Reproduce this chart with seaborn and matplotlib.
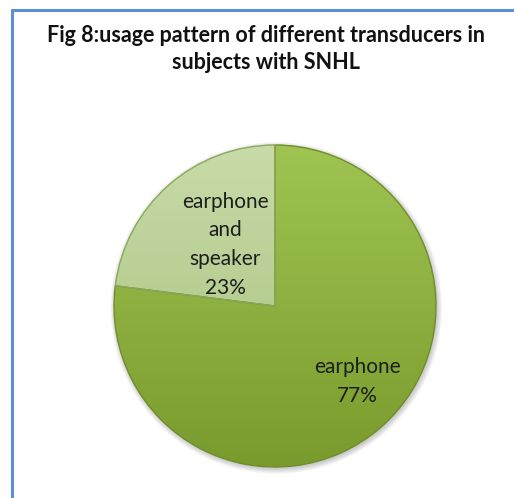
import numpy as np
import matplotlib
matplotlib.use('Agg')
import matplotlib.pyplot as plt
import seaborn as sns
from matplotlib.lines import Line2D
from matplotlib.patches import Circle
from matplotlib.colors import LinearSegmentedColormap

# --- data ---
categories = ['earphone', 'earphone\nand\nspeaker']
shares = [77, 23]
title_text = 'Fig 8:usage pattern of different transducers in\nsubjects with SNHL'

sns.set_theme(style='white')
plt.rcParams['font.family'] = ['Lato', 'DejaVu Sans']

# colors: (light, dark) per slice
slice_colors = [('#a0c452', '#799b2d'), ('#c8dba8', '#a5c07a')]

fig = plt.figure(figsize=(5.14, 4.98), dpi=100)
W, H = 514, 498
cx, cy, r = 275, 306, 161
lim = 1.04
half = r * lim
ax = fig.add_axes([(cx - half) / W, (H - cy - half) / H, 2 * half / W, 2 * half / H])

wedges, texts = ax.pie(shares, startangle=90, counterclock=False,
                       colors=[c[0] for c in slice_colors],
                       wedgeprops=dict(edgecolor='#6f8d2a', linewidth=1.0))
ax.set_aspect('equal')
ax.axis('off')

# soft shadow under the pie
for k in range(6):
    ax.add_patch(Circle((0.008, -0.012), 1.0 + 0.006 * k, facecolor='black',
                        edgecolor='none', alpha=0.035, zorder=0.5, clip_on=False))

# gradient fill per wedge (light on top, dark at bottom)
grad = np.linspace(0, 1, 256).reshape(-1, 1)
for w, (light, dark) in zip(wedges, slice_colors):
    cmap = LinearSegmentedColormap.from_list('g', [dark, light])
    im = ax.imshow(grad, extent=[-1, 1, -1, 1], cmap=cmap, aspect='auto',
                   origin='lower', zorder=w.get_zorder() + 0.1)
    im.set_clip_path(w)
    w.set_zorder(w.get_zorder() + 0.2)
    w.set_facecolor('none')
wedges[1].set_edgecolor('#8aa85a')
ax.set_xlim(-lim, lim)
ax.set_ylim(-lim, lim)

# slice labels
ax.text(0.51, -0.47, f'{categories[0]}\n{shares[0]}%', ha='center', va='center',
        fontsize=15, color='#1e1e1e', linespacing=1.55, zorder=5)
ax.text(-0.31, 0.38, f'{categories[1]}\n{shares[1]}%', ha='center', va='center',
        fontsize=15, color='#1e1e1e', linespacing=1.55, zorder=5)

# title
fig.text(266 / W, 1 - 25 / H, title_text, ha='center', va='top',
         fontsize=15.5, fontweight='bold', color='#111111', linespacing=1.35)

# blue frame (cropped at right and bottom)
fig.add_artist(Line2D([11.5 / W, 1.0], [1 - 10.5 / H, 1 - 10.5 / H],
                      transform=fig.transFigure, color='#5b8fd6', linewidth=2.2))
fig.add_artist(Line2D([11.5 / W, 11.5 / W], [0.0, 1 - 10.5 / H],
                      transform=fig.transFigure, color='#5b8fd6', linewidth=2.2))

fig.savefig('out.png', dpi=100, facecolor='white')
